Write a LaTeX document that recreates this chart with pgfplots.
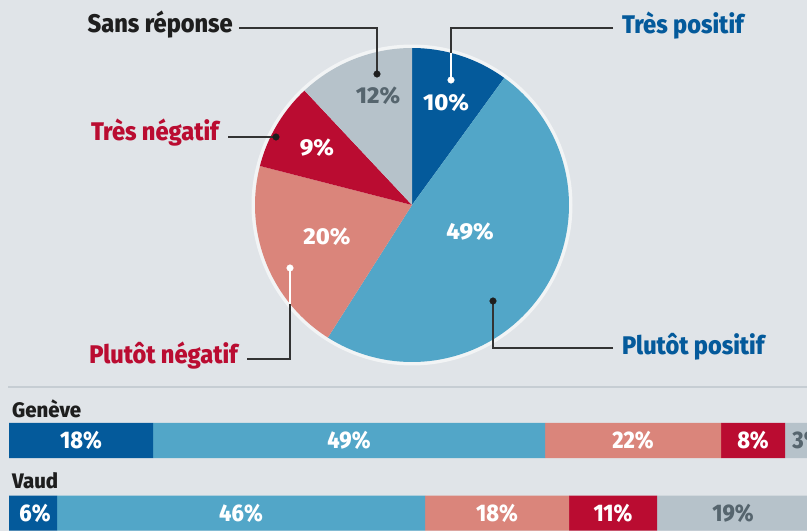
\documentclass[border=0pt]{standalone}
\usepackage{pgfplots}
\pgfplotsset{compat=1.18}
\usepackage{fontspec}
\setmainfont{Fira Sans}
\newfontfamily\labfont{Fira Sans}[BoldFont={Fira Sans ExtraBold}, FakeStretch=0.925]
\newfontfamily\regfont{Fira Sans}[BoldFont={Fira Sans ExtraBold}, FakeStretch=0.97]
\newfontfamily\pctfont{Fira Sans}[BoldFont={Fira Sans ExtraBold}, FakeStretch=1.03]
\newfontfamily\barfont{Fira Sans}[BoldFont={Fira Sans ExtraBold}, FakeStretch=0.9]
\definecolor{bg}{HTML}{E0E4E8}
\definecolor{cTP}{HTML}{045A9B}
\definecolor{cPP}{HTML}{52A6C8}
\definecolor{cPN}{HTML}{DA857B}
\definecolor{cTN}{HTML}{BA0C31}
\definecolor{cSR}{HTML}{B6C2CA}
\definecolor{gtxt}{HTML}{56656E}
\definecolor{lead}{HTML}{333333}
\definecolor{dtxt}{HTML}{1E1E1E}
\definecolor{sep}{HTML}{C6CDD3}
\begin{document}
\begin{tikzpicture}[x=1pt,y=1pt]
\path[use as bounding box, clip] (0,0) rectangle (807,531);
\fill[bg] (0,0) rectangle (807,531);
% ---------------- pie (pixel axis) ----------------
\begin{axis}[at={(0,0)}, anchor=south west, scale only axis, width=807pt, height=531pt,
  xmin=0, xmax=807, ymin=0, ymax=531, hide axis, clip=false]
% halo
\addplot[draw=none, fill=white, fill opacity=0.6, domain=0:360, samples=180] ({412+160.5*cos(x)},{326+160.5*sin(x)}) -- cycle;
% slices: 10, 49, 20, 9, 12 percent clockwise from top
\addplot[draw=none, fill=cTP, domain=54:90, samples=40] ({412+157*cos(x)},{326+157*sin(x)}) -- (412,326) -- cycle;
\addplot[draw=none, fill=cPP, domain=-122.4:54, samples=120] ({412+157*cos(x)},{326+157*sin(x)}) -- (412,326) -- cycle;
\addplot[draw=none, fill=cPN, domain=-194.4:-122.4, samples=60] ({412+157*cos(x)},{326+157*sin(x)}) -- (412,326) -- cycle;
\addplot[draw=none, fill=cTN, domain=-226.8:-194.4, samples=30] ({412+157*cos(x)},{326+157*sin(x)}) -- (412,326) -- cycle;
\addplot[draw=none, fill=cSR, domain=-270:-226.8, samples=40] ({412+157*cos(x)},{326+157*sin(x)}) -- (412,326) -- cycle;
% leader lines
\addplot[lead, line width=1.4pt, mark=none] coordinates {(613,503) (451,503) (451,451)};
\addplot[white, line width=1.4pt, mark=none] coordinates {(451,478) (451,451)};
\addplot[lead, line width=1.4pt, mark=none] coordinates {(239,503) (377,503) (377,457)};
\addplot[lead, line width=1.4pt, mark=none] coordinates {(228,394) (276,394)};
\addplot[lead, line width=1.4pt, mark=none] coordinates {(247,172) (290,172) (290,263)};
\addplot[white, line width=1.4pt, mark=none] coordinates {(290,227) (290,263)};
\addplot[lead, line width=1.4pt, mark=none] coordinates {(613,183) (493,183) (493,230)};
% dots
\addplot[only marks, mark=*, mark size=3.3pt, mark options={fill=white, draw=white}] coordinates {(451,451) (290,263)};
\addplot[only marks, mark=*, mark size=3.3pt, mark options={fill=dtxt, draw=dtxt}] coordinates {(377,457) (276,394) (493,230)};
% category labels
\node[anchor=base west, text=cTP, font=\fontsize{25.5}{30}\labfont\bfseries, inner sep=0pt] at (axis cs:622,497) {Très positif};
\node[anchor=base east, text=dtxt, font=\fontsize{25.5}{30}\labfont\bfseries, inner sep=0pt] at (axis cs:233,498) {Sans réponse};
\node[anchor=base east, text=cTN, font=\fontsize{25.5}{30}\labfont\bfseries, inner sep=0pt] at (axis cs:219,390) {Très négatif};
\node[anchor=base east, text=cTN, font=\fontsize{25.5}{30}\labfont\bfseries, inner sep=0pt] at (axis cs:238,167) {Plutôt négatif};
\node[anchor=base west, text=cTP, font=\fontsize{25.5}{30}\labfont\bfseries, inner sep=0pt] at (axis cs:622,176) {Plutôt positif};
% percentages in pie
\node[text=white, font=\fontsize{23}{27}\pctfont\bfseries, inner sep=0pt] at (axis cs:446,428.5) {10\%};
\node[text=gtxt, font=\fontsize{23}{27}\pctfont\bfseries, inner sep=0pt] at (axis cs:378,435) {12\%};
\node[text=white, font=\fontsize{23}{27}\pctfont\bfseries, inner sep=0pt] at (axis cs:317,383.5) {9\%};
\node[text=white, font=\fontsize{23}{27}\pctfont\bfseries, inner sep=0pt] at (axis cs:327,294.5) {20\%};
\node[text=white, font=\fontsize{23}{27}\pctfont\bfseries, inner sep=0pt] at (axis cs:470,299.5) {49\%};
% separator
\addplot[sep, line width=2pt, mark=none] coordinates {(8,144) (807,144)};
% region labels
\node[anchor=base west, text=dtxt, font=\fontsize{21}{25}\regfont\bfseries, inner sep=0pt] at (axis cs:12,113.5) {Genève};
\node[anchor=base west, text=dtxt, font=\fontsize{21}{25}\regfont\bfseries, inner sep=0pt] at (axis cs:12,43) {Vaud};
\end{axis}
% ---------------- stacked bars (percent axis) ----------------
\begin{axis}[at={(0,0)}, anchor=south west, scale only axis, width=807pt, height=531pt,
  xmin=-1.125, xmax=99.75, ymin=0, ymax=531, hide axis, clip=false,
  xbar stacked, bar width=35pt]
\addplot[fill=cTP, draw=none] coordinates {(18,90.5) (6,18)};
\addplot[fill=cPP, draw=none] coordinates {(49,90.5) (46,18)};
\addplot[fill=cPN, draw=none] coordinates {(22,90.5) (18,18)};
\addplot[fill=cTN, draw=none] coordinates {(8,90.5) (11,18)};
\addplot[fill=cSR, draw=none] coordinates {(3,90.5) (19,18)};
\end{axis}
% ---------------- bar labels (percent axis, no stacking) ----------------
\begin{axis}[at={(0,0)}, anchor=south west, scale only axis, width=807pt, height=531pt,
  xmin=-1.125, xmax=99.75, ymin=0, ymax=531, hide axis, clip=false]
\addplot[draw=none, mark=none, forget plot] coordinates {(0,0) (1,1)};
\node[text=white, font=\fontsize{24}{28}\barfont\bfseries, inner sep=0pt] at (axis cs:9,90.5) {18\%};
\node[text=white, font=\fontsize{24}{28}\barfont\bfseries, inner sep=0pt] at (axis cs:42.5,90.5) {49\%};
\node[text=white, font=\fontsize{24}{28}\barfont\bfseries, inner sep=0pt] at (axis cs:78,90.5) {22\%};
\node[text=white, font=\fontsize{24}{28}\barfont\bfseries, inner sep=0pt] at (axis cs:93,90.5) {8\%};
\node[text=gtxt, font=\fontsize{24}{28}\barfont\bfseries, inner sep=0pt, anchor=west] at (axis cs:97.9,90.5) {3\%};
\node[text=white, font=\fontsize{24}{28}\barfont\bfseries, inner sep=0pt] at (axis cs:3.25,18) {6\%};
\node[text=white, font=\fontsize{24}{28}\barfont\bfseries, inner sep=0pt] at (axis cs:29,18) {46\%};
\node[text=white, font=\fontsize{24}{28}\barfont\bfseries, inner sep=0pt] at (axis cs:61,18) {18\%};
\node[text=white, font=\fontsize{24}{28}\barfont\bfseries, inner sep=0pt] at (axis cs:75.5,18) {11\%};
\node[text=gtxt, font=\fontsize{24}{28}\barfont\bfseries, inner sep=0pt] at (axis cs:90.5,18) {19\%};
\end{axis}
\end{tikzpicture}
\end{document}
